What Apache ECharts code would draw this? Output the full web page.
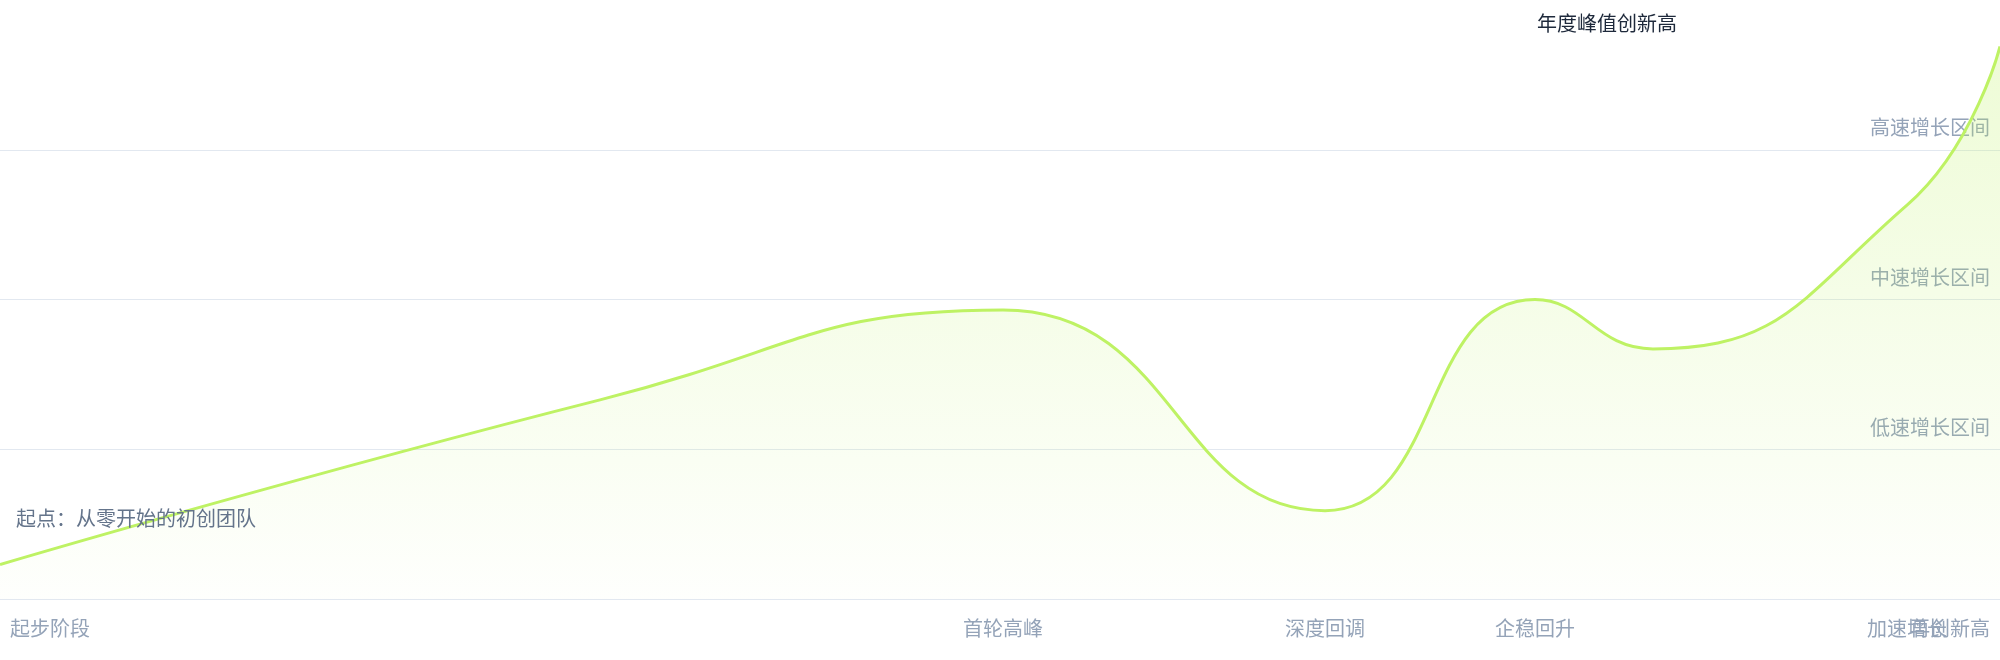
<!DOCTYPE html>
<html>
<head>
<meta charset="utf-8">
<script src="https://cdn.jsdelivr.net/npm/echarts@6/dist/echarts.min.js"></script>
<style>
html,body{margin:0;padding:0;background:#ffffff;}
#chart{width:2000px;height:660px;}
</style>
</head>
<body>
<div id="chart"></div>
<script>
// ---- data ----
const xs = [0, 30, 50.15, 66.25, 76.75, 82.65, 95.35, 100];
const values = [23, 133, 193, 59, 200, 167, 263, 369];
const milestoneX = [0, 50.15, 66.25, 76.75, 95.35, 100];
const milestoneNames = ['起步阶段', '首轮高峰', '深度回调', '企稳回升', '加速增长', '再创新高'];
const yTicks = [100, 200, 300];
const yTickNames = ['低速增长区间', '中速增长区间', '高速增长区间'];
const startNote = '起点：从零开始的初创团队';
const peakNote = '年度峰值创新高';

const FS = 20;
const FONT = '"Noto Sans CJK SC", "Noto Sans", sans-serif';
const chart = echarts.init(document.getElementById('chart'));
const seriesData = xs.map((x, i) => [x, values[i]]);

function nameFor(val) {
  let idx = 0, best = Infinity;
  milestoneX.forEach((m, i) => { const d = Math.abs(m - val); if (d < best) { best = d; idx = i; } });
  return idx;
}
// the next-to-last milestone sits on its own axis so that it is not dropped when it overlaps the last one
const lastIdx = milestoneX.length - 1;
const mainTicks = milestoneX.filter((m, i) => i !== lastIdx - 1);
const extraTicks = [milestoneX[lastIdx - 1]];

function xAxisBase(ticks) {
  return {
    type: 'value',
    position: 'bottom',
    min: 0,
    max: 100,
    splitLine: { show: false },
    axisLine: { show: false },
    axisTick: { show: false },
    axisLabel: {
      customValues: ticks,
      showMinLabel: true,
      showMaxLabel: true,
      hideOverlap: false,
      color: '#94a3b8',
      fontSize: FS,
      fontFamily: FONT,
      margin: 19,
      formatter: function (val) {
        const idx = nameFor(val);
        const name = milestoneNames[idx];
        if (idx === 0) return '{sp|}' + name;
        if (idx === lastIdx) return name + '{sp|}';
        return name;
      },
      rich: { sp: { width: 100 } }
    }
  };
}

chart.setOption({
  animation: false,
  backgroundColor: '#ffffff',
  textStyle: { fontFamily: FONT },
  title: {
    text: peakNote,
    right: 318,
    top: 8,
    textStyle: { color: '#1e293b', fontSize: FS, fontWeight: 'normal', fontFamily: FONT }
  },
  grid: { left: 0, right: 0, top: 0, bottom: 61, containLabel: false, outerBoundsMode: 'none' },
  xAxis: [xAxisBase(mainTicks), xAxisBase(extraTicks)],
  yAxis: {
    type: 'value',
    position: 'right',
    min: 0,
    max: 400,
    interval: 100,
    axisLine: { show: false },
    axisTick: { show: false },
    splitLine: { show: true, showMaxLine: false, lineStyle: { color: '#e2e8f0', width: 1 } },
    axisLabel: {
      inside: true,
      margin: 10,
      color: '#94a3b8',
      fontSize: FS,
      fontFamily: FONT,
      verticalAlign: 'bottom',
      padding: [0, 0, 12, 0],
      showMinLabel: false,
      showMaxLabel: false,
      formatter: function (val) {
        const i = yTicks.indexOf(val);
        return i >= 0 ? yTickNames[i] : '';
      }
    }
  },
  series: [{
    type: 'line',
    xAxisIndex: 0,
    data: seriesData,
    smooth: true,
    showSymbol: false,
    lineStyle: { color: '#bef264', width: 3 },
    itemStyle: { color: '#bef264' },
    areaStyle: {
      color: new echarts.graphic.LinearGradient(0, 0, 0, 1, [
        { offset: 0, color: 'rgba(190,242,100,0.38)' },
        { offset: 1, color: 'rgba(190,242,100,0.02)' }
      ])
    },
    markPoint: {
      symbol: 'circle',
      symbolSize: 0,
      data: [{
        coord: [xs[0], values[0]],
        label: {
          show: true,
          formatter: startNote,
          position: 'right',
          distance: 0,
          offset: [16, -46],
          color: '#64748b',
          fontSize: FS,
          fontFamily: FONT
        }
      }]
    }
  }]
});
</script>
</body>
</html>
